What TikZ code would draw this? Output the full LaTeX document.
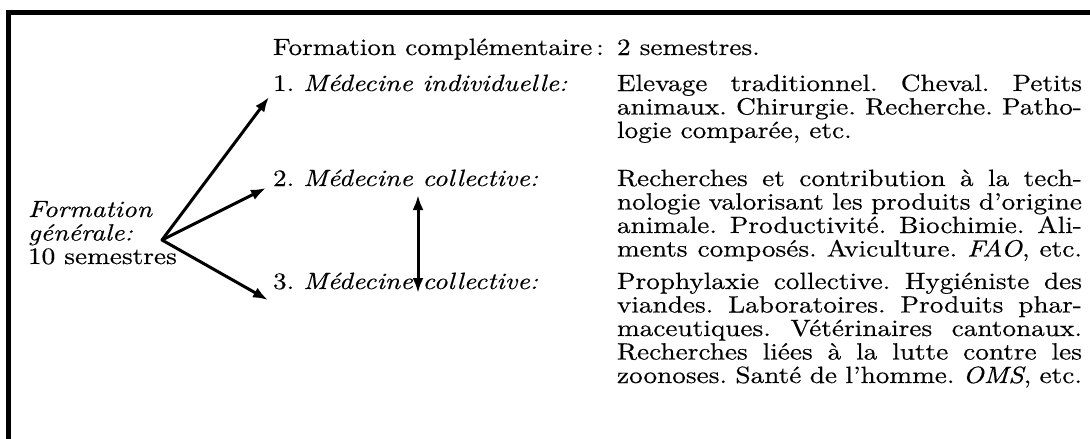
\documentclass[tikz,border=0pt]{standalone}
\usepackage{fontspec}
\setmainfont{lmroman10}[Extension=.otf, UprightFont=*-regular, ItalicFont=*-italic, BoldFont=*-bold, BoldItalicFont=*-bolditalic, FakeStretch=1.16, FakeBold=0.4]
\usetikzlibrary{arrows.meta}
\newcommand{\fs}{\fontsize{23.5}{23.5}\selectfont\frenchspacing}
\newcommand{\jl}[1]{\makebox[465pt][s]{#1}}
\newcommand{\nl}[1]{\makebox[465pt][l]{#1}}
\begin{document}
\begin{tikzpicture}[x=1pt,y=-1pt,
  txt/.style={inner sep=0pt, outer sep=0pt, anchor=base west, font=\fs},
  arr/.style={line width=3pt, line cap=round, -{Latex[length=15pt,width=11pt]}},
  dbl/.style={line width=3pt, {Latex[length=15pt,width=11pt]}-{Latex[length=15pt,width=11pt]}},
  frame/.style={line width=4.5pt}]
\useasboundingbox (0,0) rectangle (1090,439);
\draw[frame] (8.5,442) -- (8.5,12.5) -- (1093,12.5);
\node[txt] (title) at (273,55) {Formation complémentaire\,:};
\node[txt] (sem) at (617,55) {2 semestres.};
\node[txt] (m1) at (273,91) {1.\ \textit{Médecine individuelle:}};
\node[txt] (m2) at (273,186) {2.\ \textit{Médecine collective:}};
\node[txt] (m3) at (273,289) {3.\ \textit{Médecine collective:}};
\node[txt] (gen) at (28,217) {\parbox[t]{220pt}{\fs\textit{Formation}\\\textit{générale:}\\10 semestres}};
\node[txt] (p1) at (617,91) {\parbox[t]{465pt}{\fs
  \jl{Elevage traditionnel. Cheval. Petits}\\
  \jl{animaux. Chirurgie. Recherche. Patho-}\\
  \nl{logie comparée, etc.}}};
\node[txt] (p2) at (617,186) {\parbox[t]{465pt}{\fs
  \jl{Recherches et contribution à la tech-}\\
  \jl{nologie valorisant les produits d'origine}\\
  \jl{animale. Productivité. Biochimie. Ali-}\\
  \jl{ments composés. Aviculture. \textit{FAO}, etc.}}};
\node[txt] (p3) at (617,289) {\parbox[t]{465pt}{\fs
  \jl{Prophylaxie collective. Hygiéniste des}\\
  \jl{viandes. Laboratoires. Produits phar-}\\
  \jl{maceutiques. Vétérinaires cantonaux.}\\
  \jl{Recherches liées à la lutte contre les}\\
  \jl{zoonoses. Santé de l'homme. \textit{OMS}, etc.}}};
\coordinate (v) at (162,240);
\coordinate (t1) at (269,97);
\coordinate (t2) at (266,188);
\coordinate (t3) at (268,300);
\coordinate (d1) at (418,195);
\coordinate (d2) at (418,293);
\draw[arr] (v) -- (t1);
\draw[arr] (v) -- (t2);
\draw[arr] (v) -- (t3);
\draw[dbl] (d1) -- (d2);
\end{tikzpicture}
\end{document}
